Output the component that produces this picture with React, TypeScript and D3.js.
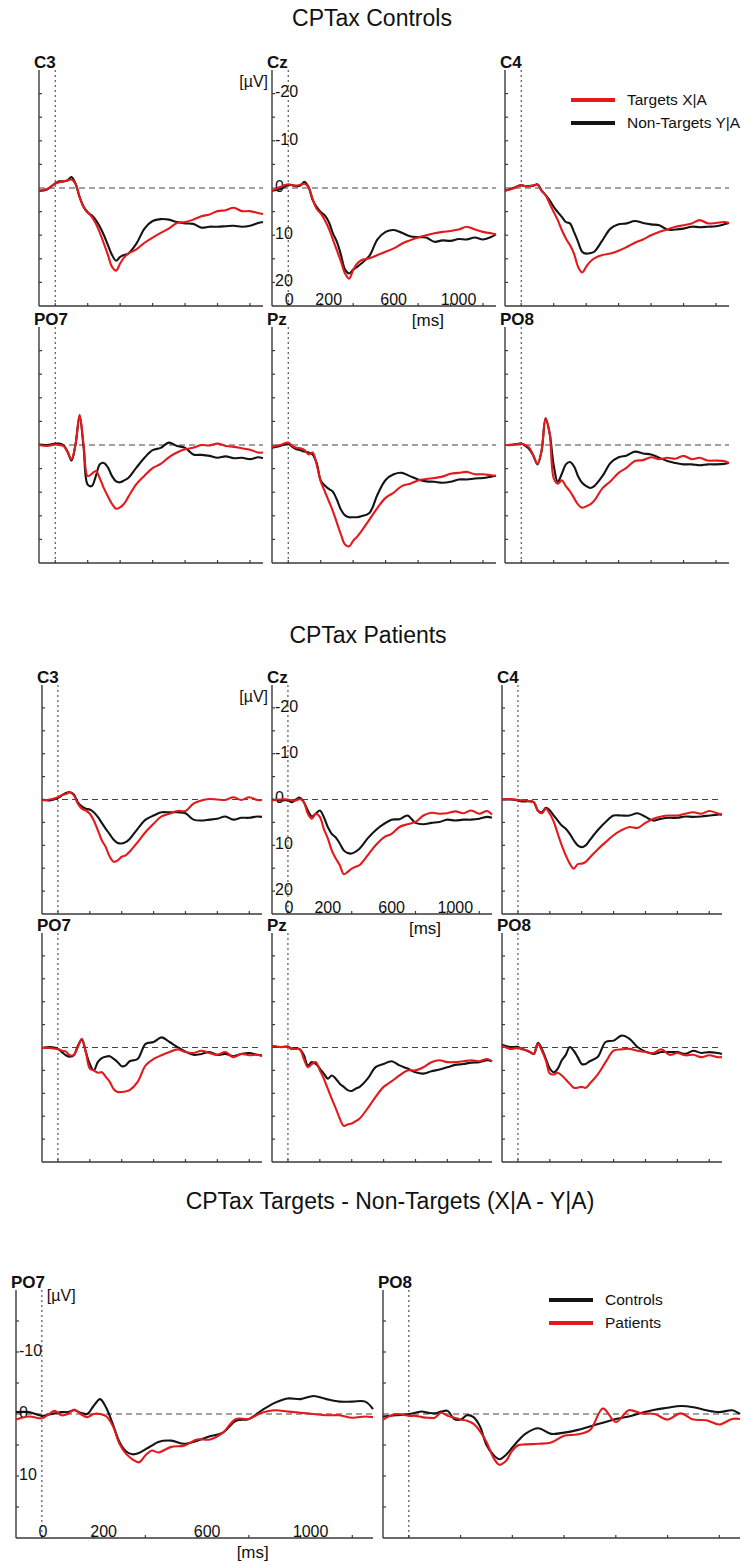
import React from 'react'
import * as d3 from 'd3'

// sample times (ms) shared by every waveform
const times = [-100, -50, 0, 25, 50, 75, 100, 125, 150, 175, 200, 225, 250, 275, 300, 325, 350, 375, 400, 425, 450,
  500, 550, 600, 650, 700, 750, 800, 850, 900, 950, 1000, 1050, 1100, 1150, 1200, 1250, 1280]

// CPTax Controls (µV, negative up)
const ctrlC3Targets = [0.6, 0.2, -0.9, -1.2, -1.4, -1.6, -1.8, -0.9, 1.9, 4.0, 5.1, 6.1, 7.5, 9.5, 11.8, 14.2, 16.7, 17.5, 16.0, 14.7, 13.9, 13.0, 11.6, 10.5, 9.5, 8.6, 7.4, 7.2, 6.7, 6.0, 5.6, 4.9, 4.7, 4.2, 4.9, 4.9, 5.3, 5.5]
const ctrlC3NonTargets = [0.6, 0.3, -1.0, -1.4, -1.4, -1.6, -2.3, -0.9, 1.9, 4.0, 5.2, 5.8, 6.8, 8.2, 10.0, 12.1, 14.2, 15.4, 14.6, 14.2, 13.9, 11.8, 8.6, 7.0, 6.6, 6.7, 7.2, 7.5, 7.6, 8.4, 8.2, 8.2, 8.1, 8.0, 8.2, 8.0, 7.4, 7.2]
const ctrlCzTargets = [0.6, -0.2, -0.8, -0.6, -0.5, -0.7, -0.9, -0.2, 2.3, 4.4, 5.4, 6.8, 8.6, 10.9, 13.2, 15.6, 18.1, 19.2, 17.4, 16.0, 15.3, 14.9, 14.2, 13.5, 12.8, 11.8, 11.1, 10.5, 10.0, 9.6, 9.3, 9.1, 8.8, 8.2, 8.8, 9.3, 9.6, 9.8]
const ctrlCzNonTargets = [0.6, 0.2, -0.6, -0.6, -0.4, -0.5, -1.3, -0.2, 2.5, 4.0, 5.1, 5.8, 7.2, 9.6, 11.4, 14.2, 17.3, 18.1, 17.3, 16.7, 16.0, 14.4, 10.9, 9.3, 8.9, 9.5, 10.2, 10.4, 10.5, 11.4, 11.1, 11.2, 10.8, 10.9, 10.5, 10.9, 10.4, 9.8]
const ctrlC4Targets = [0.6, 0.1, -0.6, -0.4, -0.4, -0.5, -0.7, 0.6, 1.5, 3.3, 5.1, 6.8, 8.9, 10.7, 12.1, 13.9, 16.7, 17.9, 16.7, 15.6, 14.9, 14.2, 13.9, 13.3, 12.5, 11.6, 10.9, 10.0, 9.3, 8.8, 8.2, 7.9, 7.5, 6.8, 7.5, 7.4, 7.2, 7.4]
const ctrlC4NonTargets = [0.6, 0.0, -0.6, -0.4, -0.4, -0.5, -0.8, 0.5, 1.5, 2.6, 4.0, 5.1, 6.1, 7.2, 7.5, 9.3, 11.4, 13.5, 13.9, 13.8, 13.5, 11.1, 8.6, 7.7, 7.5, 7.0, 7.4, 7.7, 7.9, 8.8, 8.8, 8.6, 8.2, 8.3, 8.2, 8.1, 7.7, 7.4]
const ctrlPO7Targets = [0.0, 0.2, -0.1, 0.0, 0.2, 1.4, 3.0, -0.1, -6.4, 0.0, 6.6, 6.1, 5.5, 7.1, 9.2, 10.9, 12.5, 13.5, 13.2, 12.4, 11.0, 8.3, 6.5, 4.9, 4.0, 2.6, 1.6, 0.9, 0.6, 0.0, 0.1, -0.3, 0.2, 0.4, 0.7, 1.0, 1.6, 1.6]
const ctrlPO7NonTargets = [-0.1, 0.0, -0.3, -0.3, 0.0, 1.3, 3.3, -0.1, -6.2, 0.6, 8.4, 8.7, 6.6, 4.1, 3.8, 4.8, 6.6, 7.7, 7.9, 7.5, 7.0, 4.8, 2.7, 1.1, 0.6, -0.5, 0.2, 0.6, 2.0, 2.1, 2.3, 2.7, 2.4, 2.8, 2.7, 3.0, 2.6, 2.8]
const ctrlPzTargets = [0.4, 0.0, -0.5, 0.2, 0.6, 0.7, 1.1, 2.0, 1.6, 4.1, 7.7, 9.8, 11.9, 14.0, 16.5, 19.0, 21.1, 21.5, 20.3, 19.4, 18.3, 15.8, 13.3, 11.2, 10.1, 8.7, 8.2, 7.5, 7.2, 7.0, 6.7, 6.1, 5.9, 5.7, 6.2, 6.2, 6.4, 6.5]
const ctrlPzNonTargets = [0.6, 0.2, -0.2, 0.4, 0.9, 1.1, 1.4, 1.6, 2.0, 3.8, 7.5, 8.6, 9.3, 9.9, 11.6, 13.7, 14.9, 15.3, 15.3, 15.3, 15.1, 14.4, 10.5, 7.4, 6.2, 5.9, 6.6, 7.3, 7.7, 7.8, 8.0, 7.8, 7.3, 7.3, 7.1, 7.0, 6.7, 6.5]
const ctrlPO8Targets = [0.0, 0.0, -0.3, 0.0, 0.6, 2.3, 4.0, 1.3, -5.7, -2.5, 7.0, 8.2, 7.5, 8.7, 9.8, 11.2, 12.6, 13.3, 13.0, 12.6, 11.8, 9.2, 7.7, 5.9, 4.8, 3.4, 3.2, 2.6, 3.0, 2.7, 2.9, 2.3, 3.0, 2.7, 3.3, 3.3, 3.4, 3.8]
const ctrlPO8NonTargets = [0.0, -0.1, -0.3, 0.2, 0.9, 2.3, 4.1, 1.3, -5.5, -2.5, 4.3, 7.8, 6.1, 4.1, 3.6, 4.5, 6.6, 8.0, 8.7, 9.1, 8.7, 6.6, 3.8, 2.6, 2.2, 1.4, 1.8, 2.0, 2.7, 3.4, 3.8, 4.1, 4.1, 4.3, 4.1, 4.1, 4.0, 3.8]

// CPTax Patients
const patC3Targets = [0.2, 0.0, -0.5, -1.0, -1.2, -1.6, -0.9, 0.9, 2.0, 2.4, 3.1, 4.6, 6.7, 8.9, 10.4, 12.5, 13.6, 13.3, 12.5, 12.2, 11.4, 9.3, 7.1, 5.3, 3.7, 3.1, 2.5, 2.5, 0.9, 0.2, -0.1, 0.0, 0.1, -0.5, 0.1, -0.5, 0.1, 0.1]
const patC3NonTargets = [0.0, 0.2, -0.3, -0.9, -1.4, -1.6, -1.1, 0.6, 1.5, 2.0, 2.2, 2.8, 3.8, 5.1, 6.4, 7.6, 8.8, 9.5, 9.6, 9.3, 8.6, 6.4, 4.4, 3.5, 2.8, 2.8, 2.8, 3.0, 4.4, 4.6, 4.4, 4.2, 3.7, 4.4, 4.0, 4.0, 3.7, 3.8]
const patCzTargets = [0.2, 0.0, 0.0, 0.2, 0.2, -0.1, 0.6, 3.1, 4.2, 3.1, 3.8, 6.4, 8.5, 11.1, 12.9, 14.3, 16.3, 15.8, 15.1, 14.7, 14.3, 12.2, 10.0, 8.3, 7.5, 6.0, 5.4, 4.9, 3.5, 2.9, 3.1, 3.0, 2.6, 3.0, 2.4, 3.1, 2.5, 3.3]
const patCzNonTargets = [0.0, 0.2, 0.2, 0.6, 0.0, -0.4, 0.6, 2.4, 3.7, 3.1, 2.4, 3.8, 6.0, 7.5, 8.3, 9.6, 11.1, 11.7, 11.8, 11.4, 10.7, 8.5, 6.7, 5.4, 4.4, 4.3, 3.5, 5.1, 5.4, 5.1, 4.9, 4.4, 4.6, 4.4, 4.4, 4.2, 3.8, 4.0]
const patC4Targets = [0.0, -0.1, 0.1, 0.2, 0.2, 0.4, 0.6, 2.5, 3.0, 2.0, 3.1, 4.9, 7.5, 10.0, 12.2, 14.0, 15.1, 14.1, 14.0, 13.6, 12.7, 10.9, 9.3, 7.8, 6.7, 6.0, 6.2, 5.1, 4.2, 3.7, 3.5, 3.5, 3.1, 2.8, 3.1, 2.5, 3.0, 3.3]
const patC4NonTargets = [0.0, 0.0, 0.2, 0.4, 0.4, 0.4, 0.6, 2.4, 2.8, 1.8, 2.4, 3.5, 4.6, 5.7, 6.4, 7.5, 8.9, 10.0, 10.4, 10.0, 8.9, 6.7, 4.9, 3.5, 3.5, 3.5, 3.0, 3.8, 4.6, 4.2, 4.0, 4.0, 3.7, 3.8, 3.7, 3.5, 3.3, 3.3]
const patPO7Targets = [0.1, 0.1, 0.4, 0.7, 0.9, 1.7, 1.6, -0.1, -1.9, 1.0, 4.6, 5.0, 5.5, 5.4, 6.4, 7.5, 9.1, 9.7, 9.7, 9.6, 9.3, 7.5, 3.9, 2.5, 1.7, 1.0, 0.4, 1.0, 1.2, 0.7, 1.2, 1.6, 1.0, 2.1, 1.4, 1.7, 1.6, 1.9]
const patPO7NonTargets = [0.1, -0.1, 0.3, 1.0, 1.7, 2.0, 1.7, -0.4, -1.7, 1.0, 3.6, 5.0, 3.2, 2.3, 2.0, 1.9, 2.5, 3.2, 4.1, 3.9, 3.0, 2.5, -0.8, -1.2, -2.2, -1.2, -0.1, 0.9, 1.6, 1.4, 1.0, 1.6, 1.4, 1.9, 1.4, 1.2, 1.6, 1.7]
const patPzTargets = [-0.4, -0.1, -0.1, 0.3, 0.3, 0.4, 2.5, 4.3, 3.6, 3.2, 5.0, 6.8, 9.0, 11.2, 13.3, 15.5, 17.1, 16.8, 16.6, 16.1, 15.5, 13.3, 10.8, 8.6, 7.4, 6.1, 5.0, 5.0, 4.3, 3.2, 2.8, 3.2, 3.2, 3.0, 2.8, 3.0, 2.5, 3.0]
const patPzNonTargets = [-0.4, -0.1, -0.2, 0.3, 0.1, 0.4, 1.7, 3.9, 3.2, 3.6, 4.6, 5.7, 6.8, 6.1, 6.8, 7.9, 8.6, 9.3, 9.5, 9.0, 8.6, 6.8, 4.3, 3.6, 3.0, 3.9, 4.6, 5.4, 5.7, 5.2, 4.8, 4.3, 3.8, 3.6, 3.3, 3.2, 2.8, 3.0]
const patPO8Targets = [-0.4, 0.3, 0.1, 0.4, 0.6, 0.9, 1.4, -0.8, 0.7, 2.8, 5.7, 5.9, 5.5, 6.1, 7.0, 7.9, 8.8, 8.8, 8.6, 8.8, 7.9, 5.9, 3.2, 0.7, 0.4, 0.3, 0.7, 1.0, 1.2, 0.4, 1.6, 1.2, 1.7, 1.6, 2.1, 1.7, 2.1, 2.1]
const patPO8NonTargets = [-0.6, -0.1, -0.1, 0.3, 0.6, 1.0, 1.4, -1.0, 0.3, 2.5, 4.6, 5.4, 4.6, 2.8, 1.6, -0.1, 0.7, 2.1, 3.6, 3.6, 3.0, 2.1, -1.2, -1.5, -2.6, -1.9, -0.1, 0.9, 1.4, 1.0, 1.0, 1.0, 1.4, 0.7, 1.2, 1.0, 1.2, 1.4]

// Targets - Non-Targets difference waves
const diffPO7Controls = [-0.3, -0.3, 0.3, 0.1, -0.1, -0.3, -0.3, -0.6, -0.2, 0.0, -1.3, -2.4, -0.9, 1.7, 4.5, 6.0, 6.5, 6.3, 5.7, 5.1, 4.5, 4.3, 4.8, 4.3, 3.6, 3.0, 1.1, 0.8, -0.6, -1.8, -2.5, -2.4, -2.9, -2.4, -2.0, -2.0, -2.0, -0.8]
const diffPO7Patients = [0.9, 0.4, 0.7, 0.1, -0.5, 0.2, 0.0, -0.7, 0.0, 0.5, 0.0, 0.0, 0.4, 2.0, 4.8, 6.4, 7.3, 7.8, 6.7, 5.9, 6.2, 5.3, 5.1, 4.1, 4.1, 3.0, 0.8, 0.8, -0.2, -0.6, -0.4, -0.2, 0.0, 0.2, 0.2, 0.6, 0.4, 0.5]
const diffPO8Controls = [0.4, 0.2, 0.0, -0.2, -0.4, -0.2, -0.1, -0.4, -0.5, 0.8, 0.9, 0.2, 0.5, 2.0, 5.0, 6.5, 7.3, 6.6, 5.4, 4.2, 3.2, 2.3, 3.2, 3.0, 2.6, 2.0, 1.4, 0.8, 0.4, -0.2, -0.7, -1.0, -1.3, -1.1, -0.6, -0.3, -0.6, 0.0]
const diffPO8Patients = [0.9, 0.0, 0.3, 0.3, 0.5, 0.6, 0.6, -0.2, 0.3, 0.6, 0.9, 1.1, 1.6, 2.8, 4.5, 6.9, 8.2, 7.6, 5.9, 5.0, 4.9, 4.8, 4.6, 3.5, 3.3, 2.6, -0.9, 1.3, -0.6, -0.1, 0.0, 0.9, -0.1, 0.9, 1.0, 1.7, 0.8, 0.8]

const channelRows = [['C3', 'Cz', 'C4'], ['PO7', 'Pz', 'PO8']]
const controlsSeries = {
  C3: [ctrlC3Targets, ctrlC3NonTargets], Cz: [ctrlCzTargets, ctrlCzNonTargets], C4: [ctrlC4Targets, ctrlC4NonTargets],
  PO7: [ctrlPO7Targets, ctrlPO7NonTargets], Pz: [ctrlPzTargets, ctrlPzNonTargets], PO8: [ctrlPO8Targets, ctrlPO8NonTargets],
}
const patientsSeries = {
  C3: [patC3Targets, patC3NonTargets], Cz: [patCzTargets, patCzNonTargets], C4: [patC4Targets, patC4NonTargets],
  PO7: [patPO7Targets, patPO7NonTargets], Pz: [patPzTargets, patPzNonTargets], PO8: [patPO8Targets, patPO8NonTargets],
}

const xTickValues = [0, 200, 400, 600, 800, 1000, 1200]
const xTickLabels = [0, 200, 600, 1000]
const gridYTicks = [-20, -15, -10, -5, 5, 10, 15, 20]
const gridYLabels = [-20, -10, 0, 10, 20]
const diffYTicks = [-15, -10, -5, 5, 10, 15]
const diffYLabels = [-10, 0, 10]

const RED = '#e3191c'
const BLACK = '#141414'
const AXIS = '#3a3a3a'
const FONT = 'Arial, "Liberation Sans", Helvetica, sans-serif'

function Panel(p) {
  const { left, top, width, height, yMax, label, red, black, yTicks, labels, yLabels, msAt, labelDx, unit } = p
  const bottom = top + height
  const x = d3.scaleLinear().domain([-100, 1280]).range([left, left + width])
  const y = d3.scaleLinear().domain([-yMax, yMax]).range([top, bottom])
  const line = d3.line()
    .x((_, i) => x(times[i]))
    .y((d) => y(d))
    .curve(d3.curveCatmullRom.alpha(0.5))

  return (
    <g>
      <text x={left - 5} y={top - 2} fontSize={17} fontWeight="bold">{label}</text>
      <line x1={x(0)} x2={x(0)} y1={top} y2={bottom} stroke="#333" strokeWidth={1} strokeDasharray="2,3" />
      <line x1={left} x2={left + width} y1={y(0)} y2={y(0)} stroke="#444" strokeWidth={1.1} strokeDasharray="6,4" />
      <line x1={left} x2={left} y1={top} y2={bottom} stroke={AXIS} strokeWidth={1.4} />
      <line x1={left} x2={left + width} y1={bottom} y2={bottom} stroke={AXIS} strokeWidth={1.4} />
      {yTicks.map((v) => (
        <line key={'yt' + v} x1={left} x2={left + 3} y1={y(v)} y2={y(v)} stroke={AXIS} strokeWidth={1.2} />
      ))}
      {xTickValues.map((t) => (
        <line key={'xt' + t} x1={x(t)} x2={x(t)} y1={bottom} y2={bottom - 3} stroke={AXIS} strokeWidth={1.2} />
      ))}
      {labels && yLabels.map((v) => (
        <text key={'yl' + v} x={left + 3} y={y(v) - 1} dy="0.3em" fontSize={16}>{v}</text>
      ))}
      {labels && xTickLabels.map((t) => (
        <text key={'xl' + t} x={x(t) + (t === 0 ? 1 : labelDx)} y={bottom - 1} fontSize={16} textAnchor="middle">{t}</text>
      ))}
      {labels && (
        <text x={x(msAt)} y={bottom + 20} fontSize={17} textAnchor="middle">[ms]</text>
      )}
      {unit === 'left' && <text x={left - 4} y={top + 17} fontSize={16} textAnchor="end">[µV]</text>}
      {unit === 'right' && <text x={x(0) + 5} y={top + 11} fontSize={16}>[µV]</text>}
      <path d={line(black)} fill="none" stroke={BLACK} strokeWidth={2.1} />
      <path d={line(red)} fill="none" stroke={RED} strokeWidth={2.1} />
    </g>
  )
}

function Grid({ series, cols, rows, width, height }) {
  return (
    <g>
      {channelRows.map((row, r) => row.map((ch, c) => (
        <Panel
          key={ch}
          left={cols[c]} top={rows[r]} width={width} height={height} yMax={25}
          label={ch} red={series[ch][0]} black={series[ch][1]}
          yTicks={gridYTicks} yLabels={gridYLabels}
          labels={ch === 'Cz'} unit={ch === 'Cz' ? 'left' : null}
          msAt={860} labelDx={8}
        />
      )))}
    </g>
  )
}

function Legend({ x, y, items }) {
  return (
    <g>
      {items.map((it, i) => (
        <g key={it.name}>
          <line x1={x} x2={x + 44} y1={y + i * 23} y2={y + i * 23} stroke={it.color} strokeWidth={4} />
          <text x={x + 56} y={y + i * 23} dy="0.35em" fontSize={15.5}>{it.name}</text>
        </g>
      ))}
    </g>
  )
}

export default function App() {
  return (
    <svg width={745} height={1562} style={{ position: 'absolute', left: 0, top: 0, background: '#fff' }}
      fontFamily={FONT} fill="#111">
      <rect width={745} height={1562} fill="#fff" />
      <text x={372} y={26} fontSize={23} textAnchor="middle">CPTax Controls</text>
      <Grid series={controlsSeries} cols={[39, 272, 505]} rows={[70, 327]} width={224} height={236} />
      <Legend x={571} y={100} items={[{ name: 'Targets X|A', color: RED }, { name: 'Non-Targets Y|A', color: BLACK }]} />

      <text x={368} y={643} fontSize={23} textAnchor="middle">CPTax Patients</text>
      <Grid series={patientsSeries} cols={[42, 272, 502]} rows={[685, 933]} width={220} height={229} />

      <text x={390} y={1209} fontSize={23} textAnchor="middle">CPTax Targets - Non-Targets (X|A - Y|A)</text>
      <Panel left={16} top={1290} width={357} height={248} yMax={20} label="PO7"
        red={diffPO7Patients} black={diffPO7Controls} yTicks={diffYTicks} yLabels={diffYLabels}
        labels={true} unit="right" msAt={815} labelDx={10} />
      <Panel left={383} top={1290} width={357} height={248} yMax={20} label="PO8"
        red={diffPO8Patients} black={diffPO8Controls} yTicks={diffYTicks} yLabels={diffYLabels}
        labels={false} unit={null} msAt={815} labelDx={10} />
      <Legend x={549} y={1300} items={[{ name: 'Controls', color: BLACK }, { name: 'Patients', color: RED }]} />
    </svg>
  )
}
